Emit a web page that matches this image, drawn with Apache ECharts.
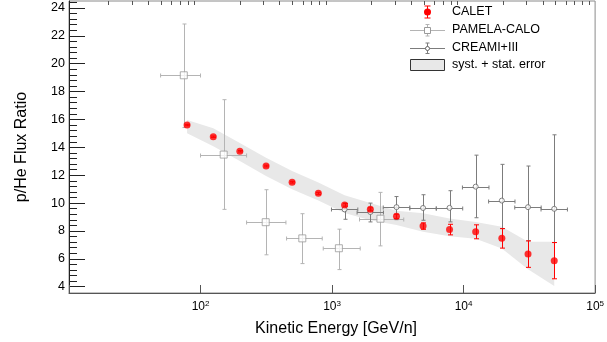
<!DOCTYPE html>
<html>
<head>
<meta charset="utf-8">
<script src="https://cdn.jsdelivr.net/npm/echarts@6/dist/echarts.min.js"></script>
<style>
  html, body { margin: 0; padding: 0; background: #fff; }
  #chart { width: 607px; height: 342px; }
</style>
</head>
<body>
<div id="chart"></div>
<script>
const FONT = '"Liberation Sans", Arial, sans-serif';

// CALET p/He ratio
const caletEnergy = [79, 125, 199, 315, 497, 787, 1245, 1955, 3090, 4920, 7820, 12360, 19540, 30900, 48900];
const caletRatio = [15.6, 14.76, 13.72, 12.66, 11.5, 10.7, 9.87, 9.55, 9.05, 8.35, 8.1, 7.94, 7.47, 6.34, 5.87];
const caletStatErr = [0.05, 0.05, 0.05, 0.06, 0.06, 0.07, 0.09, 0.11, 0.15, 0.23, 0.38, 0.5, 0.7, 0.95, 1.3];
// syst. + stat. band
const bandUpper = [15.96, 15.37, 14.31, 13.25, 12.31, 11.48, 10.56, 10.0, 9.45, 9.27, 8.9, 8.65, 8.3, 7.23, 7.23];
const bandLower = [15.02, 14.08, 13.02, 11.95, 11.0, 10.18, 9.29, 8.77, 8.42, 7.95, 7.62, 7.45, 6.74, 5.25, 4.05];

// PAMELA-CALO
const pamelaEnergy = [74.6, 150, 313, 594, 1127, 2333];
const pamelaEnergyLow = [49.7, 100, 224, 451, 857, 1618];
const pamelaEnergyHigh = [100, 224, 446, 842, 1637, 3508];
const pamelaRatio = [19.17, 13.48, 8.63, 7.47, 6.76, 8.88];
const pamelaRatioHigh = [22.85, 17.42, 10.96, 9.24, 8.13, 10.77];
const pamelaRatioLow = [15.42, 9.55, 6.29, 5.66, 5.23, 6.93];

// CREAM I+III
const creamEnergy = [1245, 1955, 3090, 4920, 7820, 12360, 19540, 30900, 48900];
const creamEnergyLow = [990, 1550, 2450, 3900, 6200, 9800, 15500, 24500, 38800];
const creamEnergyHigh = [1570, 2460, 3900, 6200, 9850, 15600, 24600, 38900, 61600];
const creamRatio = [9.55, 9.36, 9.71, 9.65, 9.66, 11.18, 10.18, 9.71, 9.59];
const creamRatioHigh = [10.0, 10.0, 10.47, 10.6, 10.89, 13.44, 12.78, 12.66, 14.9];
const creamRatioLow = [8.84, 8.65, 8.81, 8.77, 8.65, 8.95, 8.17, 7.29, 7.17];

// axis ticks
const xMajorTicks = [10, 100, 1000, 10000, 100000];
const xLabelTicks = [100, 1000, 10000, 100000];
const xMinorTicks = [];
[10, 100, 1000, 10000].forEach(d => {
  for (let m = 2; m <= 9; m++) xMinorTicks.push(m * d);
});
const yMajorTicks = [4, 6, 8, 10, 12, 14, 16, 18, 20, 22, 24];
const yMinorTicks = [];
for (let v = 4.4; v < 24.5; v += 0.4) {
  const r = Math.round(v * 10) / 10;
  if (r % 2 !== 0) yMinorTicks.push(r);
}

const chart = echarts.init(document.getElementById('chart'));

function seg(x1, y1, x2, y2, color) {
  return { type: 'line', shape: { x1, y1, x2, y2 }, style: { stroke: color, lineWidth: 1 } };
}

function makeErrorBars(color, cap, withX) {
  return function (params, api) {
    const x = api.value(0), y = api.value(1);
    const p = api.coord([x, y]);
    const top = api.coord([x, api.value(3)])[1];
    const bot = api.coord([x, api.value(2)])[1];
    const cx = Math.round(p[0]) + 0.5;
    const cy = Math.round(p[1]) + 0.5;
    const children = [
      seg(cx, top, cx, bot, color),
      seg(cx - cap, top, cx + cap, top, color),
      seg(cx - cap, bot, cx + cap, bot, color)
    ];
    if (withX) {
      const l = api.coord([api.value(4), y])[0];
      const r = api.coord([api.value(5), y])[0];
      children.push(
        seg(l, cy, r, cy, color),
        seg(l, cy - cap, l, cy + cap, color),
        seg(r, cy - cap, r, cy + cap, color)
      );
    }
    return { type: 'group', children };
  };
}

const pamelaColor = '#b4b4b4';
const creamColor = '#7c7c7c';
const caletColor = '#ff0000';

const baseX = {
  type: 'log', min: 10, max: 100000, logBase: 10,
  splitLine: { show: false }
};

const option = {
  animation: false,
  grid: {
    left: 69, right: 3, top: 1, bottom: 45,
    show: true, borderColor: '#8a8a8a', borderWidth: 1, backgroundColor: '#fff'
  },
  xAxis: [
    Object.assign({}, baseX, {
      name: 'Kinetic Energy [GeV/n]',
      nameLocation: 'middle',
      nameGap: 28,
      nameTextStyle: { fontFamily: FONT, fontSize: 16, color: '#000', padding: [0, 0, 0, 8] },
      axisLine: { show: true, lineStyle: { color: '#555' } },
      axisTick: { show: true, inside: true, length: 8, customValues: xMajorTicks, lineStyle: { color: '#555' } },
      axisLabel: {
        show: true, margin: 7, customValues: xLabelTicks,
        formatter: v => '{b|10}{s|' + Math.round(Math.log10(v)) + '}',
        rich: {
          b: { fontFamily: FONT, fontSize: 12, color: '#000', lineHeight: 14 },
          s: { fontFamily: FONT, fontSize: 8, color: '#000', lineHeight: 8, verticalAlign: 'top' }
        }
      }
    }),
    Object.assign({}, baseX, {
      axisLine: { show: false },
      axisLabel: { show: false },
      axisTick: { show: true, inside: true, length: 4, customValues: xMinorTicks, lineStyle: { color: '#555' } }
    })
  ],
  yAxis: [
    {
      type: 'value', min: 3.55, max: 24.5,
      name: 'p/He Flux Ratio',
      nameLocation: 'middle',
      nameRotate: 90,
      nameGap: 39,
      nameTextStyle: { fontFamily: FONT, fontSize: 16, color: '#000' },
      splitLine: { show: false },
      axisLine: { show: true, lineStyle: { color: '#222' } },
      axisTick: { show: true, inside: true, length: 16, customValues: yMajorTicks, lineStyle: { color: '#222' } },
      axisLabel: { fontFamily: FONT, fontSize: 12.5, color: '#000', margin: 4, customValues: yMajorTicks }
    },
    {
      type: 'value', min: 3.55, max: 24.5, position: 'left',
      splitLine: { show: false },
      axisLine: { show: false },
      axisLabel: { show: false },
      axisTick: { show: true, inside: true, length: 8, customValues: yMinorTicks, lineStyle: { color: '#222' } }
    }
  ],
  series: [
    {
      name: 'syst. + stat. error',
      type: 'custom',
      z: 1,
      silent: true,
      data: caletEnergy.map((e, i) => [e, bandUpper[i], bandLower[i]]),
      encode: { x: 0, y: [1, 2] },
      renderItem: function (params, api) {
        if (params.dataIndex !== 0) return null;
        const pts = [];
        for (let i = 0; i < caletEnergy.length; i++) pts.push(api.coord([caletEnergy[i], bandUpper[i]]));
        for (let i = caletEnergy.length - 1; i >= 0; i--) pts.push(api.coord([caletEnergy[i], bandLower[i]]));
        return { type: 'polygon', shape: { points: pts }, style: { fill: '#e8e8e8' } };
      }
    },
    {
      name: 'PAMELA-CALO bars',
      type: 'custom',
      z: 2,
      silent: true,
      data: pamelaEnergy.map((e, i) => [e, pamelaRatio[i], pamelaRatioLow[i], pamelaRatioHigh[i], pamelaEnergyLow[i], pamelaEnergyHigh[i]]),
      encode: { x: 0, y: 1 },
      renderItem: makeErrorBars(pamelaColor, 2, true)
    },
    {
      name: 'PAMELA-CALO',
      type: 'scatter',
      z: 3,
      silent: true,
      symbol: 'rect',
      symbolSize: 7,
      itemStyle: { color: '#fff', borderColor: '#9a9a9a', borderWidth: 1 },
      data: pamelaEnergy.map((e, i) => [e, pamelaRatio[i]])
    },
    {
      name: 'CREAMI+III bars',
      type: 'custom',
      z: 4,
      silent: true,
      data: creamEnergy.map((e, i) => [e, creamRatio[i], creamRatioLow[i], creamRatioHigh[i], creamEnergyLow[i], creamEnergyHigh[i]]),
      encode: { x: 0, y: 1 },
      renderItem: makeErrorBars(creamColor, 2, true)
    },
    {
      name: 'CREAMI+III',
      type: 'scatter',
      z: 5,
      silent: true,
      symbol: 'circle',
      symbolSize: 5,
      itemStyle: { color: '#fff', borderColor: '#666', borderWidth: 1 },
      data: creamEnergy.map((e, i) => [e, creamRatio[i]])
    },
    {
      name: 'CALET bars',
      type: 'custom',
      z: 6,
      silent: true,
      data: caletEnergy.map((e, i) => [e, caletRatio[i], caletRatio[i] - caletStatErr[i], caletRatio[i] + caletStatErr[i]]),
      encode: { x: 0, y: 1 },
      renderItem: makeErrorBars(caletColor, 2.5, false)
    },
    {
      name: 'CALET',
      type: 'scatter',
      z: 7,
      silent: true,
      symbol: 'circle',
      symbolSize: 7,
      itemStyle: { color: caletColor },
      data: caletEnergy.map((e, i) => [e, caletRatio[i]])
    }
  ],
  graphic: [
    {
      type: 'group',
      z: 100,
      children: [
        // CALET
        seg(427.5, 6, 427.5, 18, caletColor),
        seg(424.5, 6, 430.5, 6, caletColor),
        seg(424.5, 18, 430.5, 18, caletColor),
        { type: 'circle', shape: { cx: 427.5, cy: 12, r: 3.5 }, style: { fill: caletColor } },
        // PAMELA-CALO
        seg(410, 30.5, 445, 30.5, pamelaColor),
        seg(427.5, 24.5, 427.5, 36, pamelaColor),
        seg(425.5, 24.5, 429.5, 24.5, pamelaColor),
        seg(425.5, 36, 429.5, 36, pamelaColor),
        { type: 'rect', shape: { x: 424.5, y: 27.5, width: 6, height: 6 }, style: { fill: '#fff', stroke: '#9a9a9a', lineWidth: 1 } },
        // CREAM
        seg(410, 48.5, 445, 48.5, creamColor),
        seg(427.5, 43, 427.5, 53.5, creamColor),
        seg(425.5, 43, 429.5, 43, creamColor),
        seg(425.5, 53.5, 429.5, 53.5, creamColor),
        { type: 'circle', shape: { cx: 427.5, cy: 48.5, r: 2 }, style: { fill: '#fff', stroke: '#666', lineWidth: 1 } },
        // band
        { type: 'rect', shape: { x: 410.5, y: 59.5, width: 34, height: 11 }, style: { fill: '#e8e8e8', stroke: '#333', lineWidth: 1 } },
        { type: 'text', style: { x: 452, y: 12, text: 'CALET', font: '12.5px ' + FONT, fill: '#000', verticalAlign: 'middle' } },
        { type: 'text', style: { x: 452, y: 30, text: 'PAMELA-CALO', font: '12.5px ' + FONT, fill: '#000', verticalAlign: 'middle' } },
        { type: 'text', style: { x: 452, y: 48, text: 'CREAMI+III', font: '12.5px ' + FONT, fill: '#000', verticalAlign: 'middle' } },
        { type: 'text', style: { x: 452, y: 65, text: 'syst. + stat. error', font: '12.5px ' + FONT, fill: '#000', verticalAlign: 'middle' } }
      ]
    }
  ]
};

chart.setOption(option);
</script>
</body>
</html>
